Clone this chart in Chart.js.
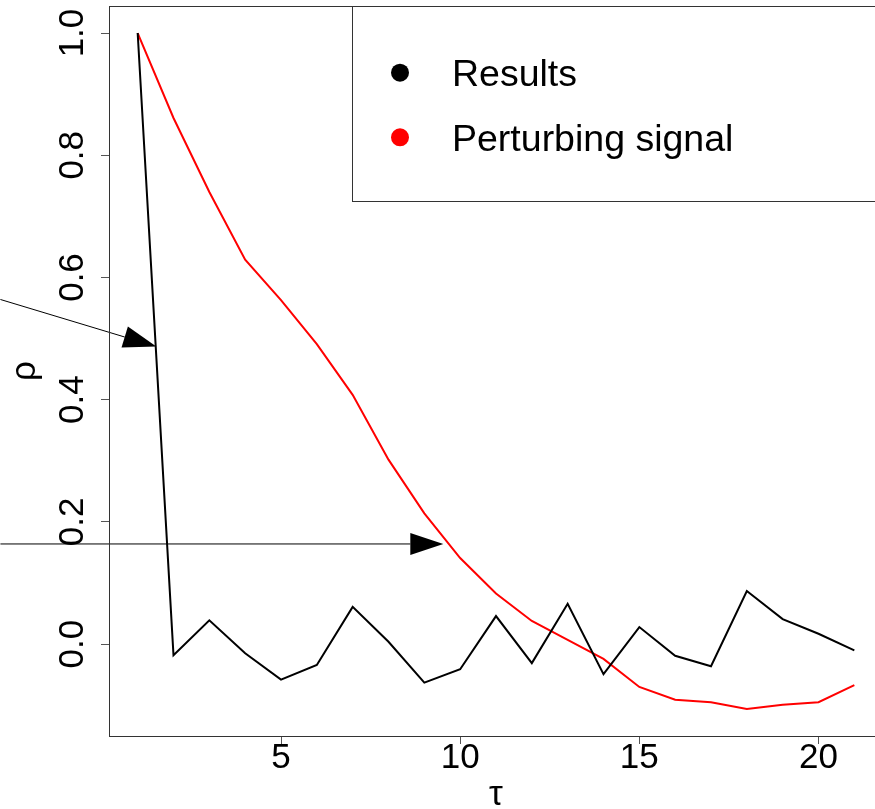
<!DOCTYPE html>
<html>
<head>
<meta charset="utf-8">
<script src="https://cdn.jsdelivr.net/npm/chart.js@4"></script>
<style>
  html, body { margin: 0; padding: 0; background: #fff; overflow: hidden; }
  #wrap { width: 900px; height: 809px; }
</style>
</head>
<body>
<div id="wrap"><canvas id="myChart" width="900" height="809"></canvas></div>
<script>
// lag values and the two autocorrelation series
const tau = [1, 2, 3, 4, 5, 6, 7, 8, 9, 10, 11, 12, 13, 14, 15, 16, 17, 18, 19, 20, 21];
const results = [1.0, -0.018, 0.039, -0.015, -0.058, -0.034, 0.061, 0.004, -0.063, -0.041, 0.046,
                 -0.031, 0.066, -0.049, 0.028, -0.019, -0.036, 0.087, 0.041, 0.017, -0.010];
const perturbing = [1.0, 0.861, 0.740, 0.629, 0.563, 0.491, 0.408, 0.302, 0.214, 0.141, 0.083,
                    0.038, 0.007, -0.024, -0.070, -0.091, -0.095, -0.106, -0.099, -0.095, -0.067];
const seriesNames = ['Results', 'Perturbing signal'];
const xTicks = [5, 10, 15, 20];
const yTicks = [0, 0.2, 0.4, 0.6, 0.8, 1.0];

// annotation arrows, in data units (tau, rho)
const arrows = [
    { from: [-2.83, 0.564], to: [1.52, 0.487] },
    { from: [-2.83, 0.164], to: [9.53, 0.164] }
];

// R style axis range: data range plus 4% on each side
function padRange(vals) {
    const lo = Math.min(...vals), hi = Math.max(...vals);
    const d = (hi - lo) * 0.04;
    return [lo - d, hi + d];
}
const [xMin, xMax] = padRange(tau);
const [yMin, yMax] = padRange(results.concat(perturbing));

const font = '"Liberation Sans", Arial, Helvetica, sans-serif';

const extras = {
    id: 'extras',
    afterDatasetsDraw(chart) {
        const { ctx, chartArea: a, scales: { x, y } } = chart;
        ctx.save();

        // arrows
        ctx.strokeStyle = '#000';
        ctx.fillStyle = '#000';
        ctx.lineWidth = 1;
        arrows.forEach(ar => {
            const x0 = x.getPixelForValue(ar.from[0]), y0 = y.getPixelForValue(ar.from[1]);
            const x1 = x.getPixelForValue(ar.to[0]), y1 = y.getPixelForValue(ar.to[1]);
            const ang = Math.atan2(y1 - y0, x1 - x0);
            const len = 33, half = 11;
            const bx = x1 - len * Math.cos(ang), by = y1 - len * Math.sin(ang);
            ctx.beginPath();
            ctx.moveTo(x0, y0);
            ctx.lineTo(bx, by);
            ctx.stroke();
            ctx.beginPath();
            ctx.moveTo(x1, y1);
            ctx.lineTo(bx + half * Math.sin(ang), by - half * Math.cos(ang));
            ctx.lineTo(bx - half * Math.sin(ang), by + half * Math.cos(ang));
            ctx.closePath();
            ctx.fill();
        });

        // plot box
        ctx.strokeStyle = '#333';
        ctx.lineWidth = 1;
        const L = Math.round(a.left) + 0.5, T = Math.round(a.top) + 0.5;
        const R = Math.round(a.right) + 0.5, B = Math.round(a.bottom) + 0.5;
        ctx.strokeRect(L, T, R - L, B - T);

        // legend (top right, inside the box)
        ctx.fillStyle = '#fff';
        ctx.fillRect(352.5, T, R - 352.5, 201.5 - T);
        ctx.strokeRect(352.5, T, R - 352.5, 201.5 - T);
        ctx.font = '37.5px ' + font;
        ctx.textBaseline = 'alphabetic';
        ctx.textAlign = 'left';
        chart.data.datasets.forEach((ds, i) => {
            const cy = 72.7 + i * 64.6;
            ctx.fillStyle = ds.borderColor;
            ctx.beginPath();
            ctx.arc(400, cy, 9, 0, Math.PI * 2);
            ctx.fill();
            ctx.fillStyle = '#000';
            ctx.fillText(ds.label, 452, cy + 13.3);
        });

        ctx.restore();
    }
};

const ctx = document.getElementById('myChart').getContext('2d');
const myChart = new Chart(ctx, {
    type: 'line',
    data: {
        datasets: [{
            label: seriesNames[0],
            data: tau.map((t, i) => ({ x: t, y: results[i] })),
            borderColor: '#000000',
            borderWidth: 2
        }, {
            label: seriesNames[1],
            data: tau.map((t, i) => ({ x: t, y: perturbing[i] })),
            borderColor: '#ff0000',
            borderWidth: 2
        }]
    },
    options: {
        responsive: false,
        animation: false,
        devicePixelRatio: 1,
        layout: { padding: { top: 6, right: 17, left: 0, bottom: 0 } },
        elements: { point: { radius: 0 }, line: { tension: 0 } },
        plugins: { legend: { display: false }, tooltip: { enabled: false } },
        scales: {
            x: {
                type: 'linear',
                min: xMin,
                max: xMax,
                afterBuildTicks: s => { s.ticks = xTicks.map(v => ({ value: v })); },
                afterFit: s => { s.height = 73; s.paddingLeft = 0; s.paddingRight = 0; },
                grid: { drawOnChartArea: false, drawTicks: true, tickLength: 8, color: '#555' },
                border: { display: false },
                ticks: {
                    autoSkip: false,
                    maxRotation: 0,
                    padding: -3,
                    color: '#000',
                    font: { family: font, size: 35, lineHeight: 1 }
                },
                title: {
                    display: true,
                    text: 'τ',
                    color: '#000',
                    padding: { top: 0, bottom: -4 },
                    font: { family: font, size: 35, lineHeight: 1 }
                }
            },
            y: {
                type: 'linear',
                min: yMin,
                max: yMax,
                afterBuildTicks: s => { s.ticks = yTicks.map(v => ({ value: v })); },
                afterFit: s => { s.width = 109; s.paddingTop = 0; s.paddingBottom = 0; },
                grid: { drawOnChartArea: false, drawTicks: true, tickLength: 8, color: '#555' },
                border: { display: false },
                ticks: {
                    autoSkip: false,
                    minRotation: 90,
                    maxRotation: 90,
                    crossAlign: 'center',
                    padding: 3,
                    color: '#000',
                    font: { family: font, size: 35, lineHeight: 1 },
                    callback: v => v.toFixed(1)
                },
                title: {
                    display: true,
                    text: 'ρ',
                    color: '#000',
                    padding: { top: 8, bottom: 0 },
                    font: { family: font, size: 35, lineHeight: 1 }
                }
            }
        }
    },
    plugins: [extras]
});
</script>
</body>
</html>
